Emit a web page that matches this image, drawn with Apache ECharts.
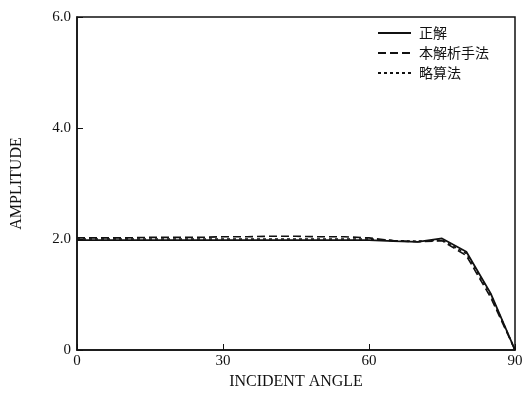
<!DOCTYPE html>
<html>
<head>
<meta charset="utf-8">
<script src="https://cdn.jsdelivr.net/npm/echarts@6/dist/echarts.min.js"></script>
<style>html,body{margin:0;padding:0;background:#fff;}#c{width:523px;height:405px;}</style>
</head>
<body>
<div id="c"></div>
<script>
const angles = [0, 5, 10, 15, 20, 25, 30, 35, 40, 45, 50, 55, 60, 65, 70, 75, 80, 85, 90];
const exact = [1.98, 1.98, 1.98, 1.98, 1.98, 1.98, 1.98, 1.98, 1.98, 1.98, 1.98, 1.98, 1.98, 1.96, 1.95, 2.01, 1.77, 1.02, 0];
const proposed = [2.02, 2.02, 2.02, 2.03, 2.03, 2.03, 2.04, 2.04, 2.05, 2.05, 2.04, 2.04, 2.02, 1.97, 1.95, 1.97, 1.70, 0.95, 0];
const approx = [2.00, 2.00, 2.00, 2.00, 2.00, 2.00, 2.00, 2.00, 2.00, 2.00, 2.00, 2.00, 2.00, 1.97, 1.96, 1.98, 1.74, 1.00, 0];
const seriesNames = ['正解', '本解析手法', '略算法'];
const xTicks = [0, 30, 60, 90];
const yTicks = [0, 2, 4, 6];

const pair = (ys) => angles.map((a, i) => [a, ys[i]]);
const serif = '"Liberation Serif", "DejaVu Serif", serif';
const chart = echarts.init(document.getElementById('c'), null, {renderer: 'canvas'});
chart.setOption({
  backgroundColor: '#fff',
  animation: false,
  grid: {left: 77, right: 8, top: 17, bottom: 55, show: true, borderColor: '#111', borderWidth: 1.5,
    containLabel: false, outerBoundsMode: 'none'},
  legend: {
    orient: 'vertical', left: 372, top: 21, itemWidth: 33, itemHeight: 14, itemGap: 6,
    textStyle: {fontFamily: '"Noto Sans CJK JP"', fontSize: 14, color: '#111', padding: [0, 0, 0, 3]},
    itemStyle: {opacity: 0},
    data: seriesNames
  },
  xAxis: {
    type: 'value', min: 0, max: 90, interval: 30,
    name: 'INCIDENT ANGLE', nameLocation: 'middle', nameGap: 24,
    nameTextStyle: {fontFamily: serif, fontSize: 16, color: '#111'},
    axisLine: {lineStyle: {color: '#111', width: 1.5}},
    axisTick: {inside: true, length: 6, lineStyle: {color: '#111'}},
    axisLabel: {fontFamily: serif, fontSize: 15, color: '#111', margin: 4,
      formatter: v => xTicks.includes(v) ? String(v) : ''},
    splitLine: {show: false}
  },
  yAxis: {
    type: 'value', min: 0, max: 6, interval: 2,
    name: 'AMPLITUDE', nameLocation: 'middle', nameGap: 52, nameRotate: 90,
    nameTextStyle: {fontFamily: serif, fontSize: 16, color: '#111'},
    axisLine: {lineStyle: {color: '#111', width: 1.5}},
    axisTick: {inside: true, length: 6, lineStyle: {color: '#111'}},
    axisLabel: {fontFamily: serif, fontSize: 15, color: '#111', margin: 6,
      formatter: v => yTicks.includes(v) ? (v === 0 ? '0' : v.toFixed(1)) : ''},
    splitLine: {show: false}
  },
  series: [
    {name: seriesNames[0], type: 'line', data: pair(exact), symbol: 'none',
      lineStyle: {color: '#111', width: 1.8, type: 'solid'}, itemStyle: {color: '#111'}},
    {name: seriesNames[1], type: 'line', data: pair(proposed), symbol: 'none',
      lineStyle: {color: '#111', width: 1.6, type: [8, 4]}, itemStyle: {color: '#111'}},
    {name: seriesNames[2], type: 'line', data: pair(approx), symbol: 'none',
      lineStyle: {color: '#111', width: 1.6, type: [3, 3]}, itemStyle: {color: '#111'}}
  ]
});
</script>
</body>
</html>
